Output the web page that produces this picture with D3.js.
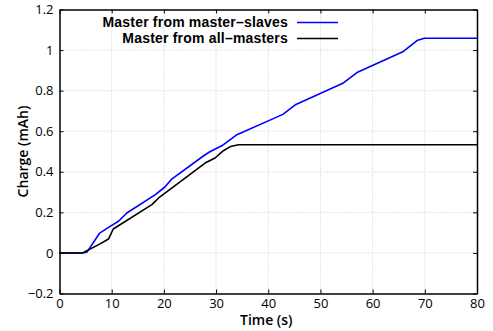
<!DOCTYPE html>
<html><head><meta charset="utf-8">
<script src="https://cdn.jsdelivr.net/npm/d3@7"></script>
<style>
body{margin:0;background:#fff;}
</style></head>
<body><svg id="c" width="493" height="331"></svg>
<script>
const seriesNames = ["Master from master\u2013slaves", "Master from all\u2013masters"];
const seriesColors = ["#0000ff", "#000000"];
const blueT = [0, 4.5, 5.3, 7.7, 9.7, 11.3, 12.9, 18.3, 20.2, 21.5, 27.9, 28.9, 31.1, 34.0, 42.8, 45.3, 54.4, 57.0, 65.9, 68.5, 69.9, 80];
const blueV = [0, 0, 0.005, 0.098, 0.131, 0.156, 0.197, 0.286, 0.325, 0.364, 0.484, 0.500, 0.528, 0.583, 0.683, 0.732, 0.838, 0.889, 0.993, 1.047, 1.058, 1.058];
const blackT = [0, 4.4, 7.5, 9.4, 10.3, 17.7, 19.0, 27.9, 29.8, 31.4, 32.8, 34.3, 80];
const blackV = [0, 0, 0.041, 0.069, 0.118, 0.238, 0.271, 0.443, 0.468, 0.504, 0.525, 0.533, 0.533];
const xTicks = [0, 10, 20, 30, 40, 50, 60, 70, 80];
const yTicks = [-0.2, 0, 0.2, 0.4, 0.6, 0.8, 1, 1.2];
const xLabel = "Time (s)";
const yLabel = "Charge (mAh)";

const OPEN = "'Open Sans', Arial, sans-serif";
const LIB = "'Liberation Sans', Arial, sans-serif";
const svg = d3.select("#c");
const L = 59.5, R = 477, T = 9.5, B = 293.5;
const x = d3.scaleLinear().domain([0, 80]).range([L, R]);
const y = d3.scaleLinear().domain([-0.2, 1.2]).range([B, T]);

// grid
const g = svg.append("g");
g.selectAll(".gx").data(xTicks.slice(1, -1)).enter().append("line")
  .attr("x1", d => x(d)).attr("x2", d => x(d)).attr("y1", T).attr("y2", B)
  .attr("stroke", "#c8c8c8").attr("stroke-width", 1).attr("stroke-dasharray", "1,2");
g.selectAll(".gy").data(yTicks.slice(1, -1)).enter().append("line")
  .attr("x1", L).attr("x2", R).attr("y1", d => y(d)).attr("y2", d => y(d))
  .attr("stroke", "#c8c8c8").attr("stroke-width", 1).attr("stroke-dasharray", "1,2");

// lines
const line = d3.line().x(d => x(d[0])).y(d => y(d[1]));
const data = [d3.zip(blueT, blueV), d3.zip(blackT, blackV)];
data.forEach((d, i) => {
  svg.append("path").datum(d).attr("d", line).attr("fill", "none")
    .attr("stroke", seriesColors[i]).attr("stroke-width", 1.6).attr("stroke-linejoin", "round");
});

// axes
const fmt = d => {
  const s = d3.format("")(+d.toFixed(1));
  return s.replace("-", "\u2212");
};
const ax = svg.append("g").attr("transform", `translate(0,${B})`)
  .call(d3.axisBottom(x).tickValues(xTicks).tickSizeInner(-4).tickSizeOuter(0).tickPadding(5).tickFormat(d => d));
const ax2 = svg.append("g").attr("transform", `translate(0,${T})`)
  .call(d3.axisTop(x).tickValues(xTicks).tickSizeInner(-4).tickSizeOuter(0).tickFormat(""));
const ay = svg.append("g").attr("transform", `translate(${L},0)`)
  .call(d3.axisLeft(y).tickValues(yTicks).tickSizeInner(-4).tickSizeOuter(0).tickPadding(6).tickFormat(fmt));
const ay2 = svg.append("g").attr("transform", `translate(${R},0)`)
  .call(d3.axisRight(y).tickValues(yTicks).tickSizeInner(-4).tickSizeOuter(0).tickFormat(""));
[ax, ax2, ay, ay2].forEach(a => {
  a.attr("font-family", OPEN).attr("font-size", 13);
  a.selectAll("path").attr("stroke", "#000").attr("stroke-width", 1.5);
  a.selectAll("line").attr("stroke", "#000");
  a.selectAll("text").style("font-family", OPEN).style("font-size", "13px").attr("fill", "#000");
});

// axis labels
svg.append("text").attr("x", (L + R) / 2 - 2).attr("y", 325).attr("text-anchor", "middle")
  .style("font-family", OPEN).style("font-size", "14px").style("font-weight", 600).text(xLabel);
svg.append("text").attr("transform", `translate(28,${(T + B) / 2}) rotate(-90)`).attr("text-anchor", "middle")
  .style("font-family", OPEN).style("font-size", "14px").style("font-weight", 600).text(yLabel);

// legend
const legY = [22.5, 38.5];
const legBase = [27, 43];
seriesNames.forEach((n, i) => {
  svg.append("text").attr("x", 288).attr("y", legBase[i]).attr("text-anchor", "end")
    .style("font-family", LIB).style("font-size", "14px").style("font-weight", "bold")
    .style("letter-spacing", "0.2px").text(n);
  svg.append("line").attr("x1", 297).attr("x2", 338).attr("y1", legY[i]).attr("y2", legY[i])
    .attr("stroke", seriesColors[i]).attr("stroke-width", 1.6);
});
</script></body></html>
